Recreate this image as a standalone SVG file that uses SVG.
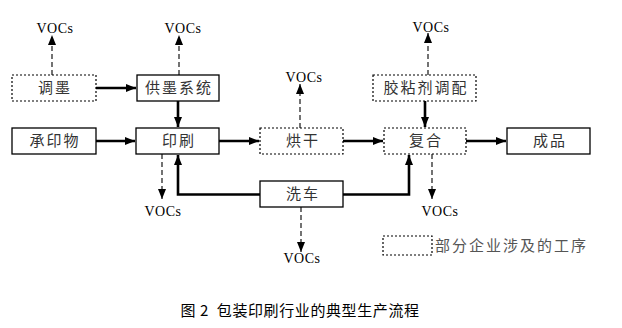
<svg xmlns="http://www.w3.org/2000/svg" width="622" height="328" viewBox="0 0 622 328">
<style>
.box{fill:#fff;stroke:#000;stroke-width:1.3}
.dbox{fill:#fff;stroke:#000;stroke-width:1.2;stroke-dasharray:2 2}
.t{font-family:"Noto Sans CJK SC","Noto Sans CJK JP",sans-serif;font-size:15px;fill:#333;text-anchor:middle;letter-spacing:2px}
.v{font-family:"Liberation Serif","DejaVu Serif",serif;font-size:14px;fill:#000;text-anchor:middle;letter-spacing:0.5px}
.s{fill:none;stroke:#000;stroke-width:2.6}
.d{fill:none;stroke:#000;stroke-width:1.1;stroke-dasharray:5 3}
</style>
<defs>
<marker id="a" viewBox="0 0 10 8" refX="10" refY="4" markerWidth="10" markerHeight="8" markerUnits="userSpaceOnUse" orient="auto"><path d="M0,0L10,4L0,8z" fill="#000"/></marker>
<marker id="b" viewBox="0 0 10 8" refX="10" refY="4" markerWidth="10" markerHeight="8" markerUnits="userSpaceOnUse" orient="auto"><path d="M0,0L10,4L0,8z" fill="#000"/></marker>
</defs>
<rect width="622" height="328" fill="#fff"/>
<g id="connectors">
<path class="s" d="M96,88H136" marker-end="url(#a)"/>
<path class="s" d="M178,101V127" marker-end="url(#a)"/>
<path class="s" d="M96,141H135" marker-end="url(#a)"/>
<path class="s" d="M219,141H259" marker-end="url(#a)"/>
<path class="s" d="M343,141H383" marker-end="url(#a)"/>
<path class="s" d="M425,101V127" marker-end="url(#a)"/>
<path class="s" d="M466,141H506" marker-end="url(#a)"/>
<path class="s" d="M260,194.5H178V155" marker-end="url(#a)"/>
<path class="s" d="M343,194.5H409V155" marker-end="url(#a)"/>
<path class="d" d="M52,75V35" marker-end="url(#b)"/>
<path class="d" d="M179,75V35" marker-end="url(#b)"/>
<path class="d" d="M300,128V84" marker-end="url(#b)"/>
<path class="d" d="M428,75V33" marker-end="url(#b)"/>
<path class="d" d="M162,154V199" marker-end="url(#b)"/>
<path class="d" d="M301,207V252" marker-end="url(#b)"/>
<path class="d" d="M432,154V199" marker-end="url(#b)"/>
</g>
<g id="n-tiaomo"><rect class="dbox" x="12" y="75" width="84" height="26"/><text class="t" x="55" y="93">调墨</text></g>
<g id="n-gongmo"><rect class="box" x="137" y="75" width="82" height="26"/><text class="t" x="179" y="93">供墨系统</text></g>
<g id="n-chengyinwu"><rect class="box" x="12" y="128" width="84" height="26"/><text class="t" x="55" y="146">承印物</text></g>
<g id="n-yinshua"><rect class="box" x="136" y="128" width="83" height="26"/><text class="t" x="179" y="146">印刷</text></g>
<g id="n-honggan"><rect class="dbox" x="260" y="128" width="83" height="26"/><text class="t" x="303" y="146">烘干</text></g>
<g id="n-jiaonianji"><rect class="dbox" x="373" y="75" width="103" height="26"/><text class="t" x="426" y="93">胶粘剂调配</text></g>
<g id="n-fuhe"><rect class="dbox" x="384" y="128" width="82" height="26"/><text class="t" x="426" y="146">复合</text></g>
<g id="n-chengpin"><rect class="box" x="507" y="128" width="83" height="26"/><text class="t" x="550" y="146">成品</text></g>
<g id="n-xiche"><rect class="box" x="260" y="181" width="83" height="26"/><text class="t" x="303" y="199">洗车</text></g>
<g id="vocs">
<text class="v" x="55" y="33">VOCs</text>
<text class="v" x="183" y="33">VOCs</text>
<text class="v" x="304" y="82">VOCs</text>
<text class="v" x="431" y="32">VOCs</text>
<text class="v" x="163" y="216">VOCs</text>
<text class="v" x="302" y="263">VOCs</text>
<text class="v" x="440" y="216">VOCs</text>
</g>
<g id="legend"><rect class="dbox" x="383" y="236" width="49" height="19"/><text x="435" y="251" style="font-family:'Noto Sans CJK SC',sans-serif;font-size:15px;fill:#555;letter-spacing:2px">部分企业涉及的工序</text></g>
<text x="300" y="316" xml:space="preserve" style="font-family:'Noto Sans CJK SC',sans-serif;font-size:15px;fill:#000;text-anchor:middle;letter-spacing:0.6px">图 2  包装印刷行业的典型生产流程</text>
</svg>
